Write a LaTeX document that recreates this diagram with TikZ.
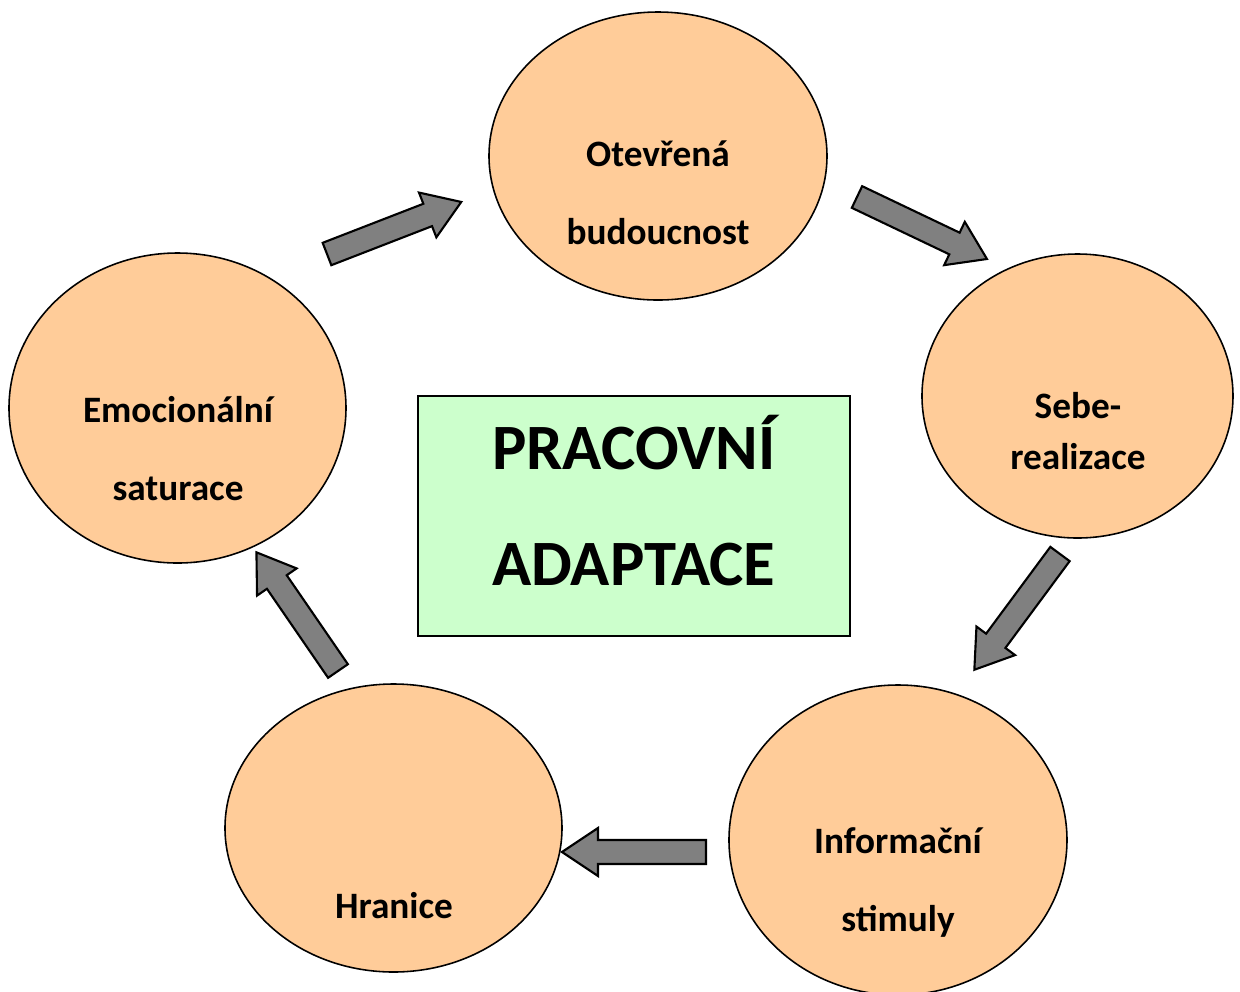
\documentclass[tikz,border=0pt]{standalone}
\usepackage{fontspec}
\setmainfont{Carlito}
\definecolor{adapt_peach}{RGB}{255, 204, 153}
\definecolor{adapt_green}{RGB}{204, 255, 204}
\definecolor{adapt_grey}{RGB}{128, 128, 128}
\usetikzlibrary{positioning, shapes.geometric}

\begin{document}
\begin{tikzpicture}[
        oval/.style={draw=black, fill=adapt_peach, ellipse, line width=0.45pt,
                     inner sep=0pt},
        lbl/.style={font=\bfseries\fontsize{10.6}{22.2}\selectfont, align=center},
        core/.style={draw=black, fill=adapt_green, line width=0.7pt,
                     minimum width=4.32cm, minimum height=2.4cm},
        pics/blockarr/.style={code={
          \draw[draw=black, fill=adapt_grey, line width=0.6pt, line join=miter]
            (0,-0.12) -- (1.08,-0.12) -- (1.08,-0.24) -- (1.44,0)
            -- (1.08,0.24) -- (1.08,0.12) -- (0,0.12) -- cycle;}},
      ]
        \useasboundingbox (0,0) rectangle (12.4,-9.92);
        \clip (0,0) rectangle (12.4,-9.92);
        % ovals
        \node[oval, minimum width=3.38cm, minimum height=2.88cm] (otev) at (6.58,-1.56) {};
        \node[oval, minimum width=3.11cm, minimum height=2.84cm] (sebe) at (10.775,-3.96) {};
        \node[oval, minimum width=3.38cm, minimum height=3.10cm] (info) at (8.98,-8.40) {};
        \node[oval, minimum width=3.37cm, minimum height=2.88cm] (hran) at (3.935,-8.28) {};
        \node[oval, minimum width=3.37cm, minimum height=3.10cm] (emoc) at (1.775,-4.08) {};
        \node[core] (core) at (6.34,-5.16) {};
        % texts
        \node[lbl] (otev-t) at (6.58,-1.925) {Otevřená\\budoucnost};
        \node[lbl, font=\bfseries\fontsize{10.6}{14.5}\selectfont] (sebe-t)
          at (10.78,-4.31) {Sebe-\\realizace};
        \node[lbl] (info-t) at (8.98,-8.825) {Informační\\stimuly};
        \node[lbl] (hran-t) at (3.94,-9.055) {Hranice};
        \node[lbl] (emoc-t) at (1.78,-4.49) {Emocionální\\saturace};
        \node[font=\bfseries\fontsize{18.4}{33}\selectfont, align=center] (core-t)
          at (6.34,-5.01) {PRACOVNÍ\\ADAPTACE};
        % arrows
        \pic[rotate=21.2]   (a1) at (3.27,-2.54)  {blockarr};
        \pic[rotate=-25.5]  (a2) at (8.57,-1.97)  {blockarr};
        \pic[rotate=-126.5] (a3) at (10.60,-5.54) {blockarr};
        \pic[rotate=180]    (a4) at (7.06,-8.52)  {blockarr};
        \pic[rotate=124.5]  (a5) at (3.38,-6.71)  {blockarr};
      \end{tikzpicture}
\end{document}
